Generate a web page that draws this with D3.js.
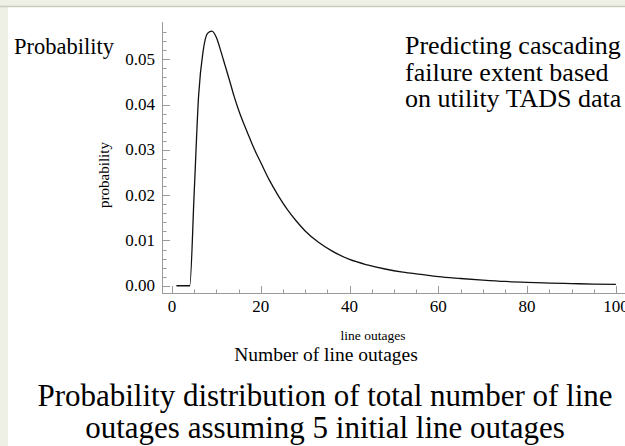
<!DOCTYPE html>
<html>
<head>
<meta charset="utf-8">
<script src="https://cdn.jsdelivr.net/npm/d3@7"></script>
<style>
  html, body { margin: 0; padding: 0; background: #eef0e5; }
  svg { display: block; }
</style>
</head>
<body>
<svg id="chart"></svg>
<script>
// data
const outages = [1, 2, 3, 4, 5, 6, 7, 8, 9, 10, 11, 12, 13, 14, 15, 16, 17, 18, 19, 20,
  22, 24, 26, 28, 30, 33, 36, 40, 44, 48, 52, 56, 60, 65, 70, 75, 80, 85, 90, 95, 100];
const probs = [0, 0, 0, 0, 0.0205, 0.042, 0.0517, 0.0557, 0.0562, 0.0548, 0.0518, 0.0485, 0.0452, 0.0418, 0.0388, 0.0362, 0.0338, 0.0314, 0.0292, 0.0272,
  0.0232, 0.0198, 0.0168, 0.0143, 0.0121, 0.0096, 0.0077, 0.0058, 0.0046, 0.0037, 0.0030, 0.0025, 0.0020, 0.0016, 0.00125, 0.00095, 0.00075, 0.0006, 0.00048, 0.00038, 0.0003];
const xTicks = [0, 20, 40, 60, 80, 100];
const yTicks = [0, 0.01, 0.02, 0.03, 0.04, 0.05];
const noteLines = ["Predicting cascading", "failure extent based", "on utility TADS data"];
const titleLines = ["Probability distribution of total number of line", "outages assuming 5 initial line outages"];

const W = 625, H = 446;
const serif = "'Liberation Serif', Tinos, 'Times New Roman', Times, serif";
const svg = d3.select("#chart").attr("width", W).attr("height", H)
  .attr("font-family", serif);

// white panel with the thin frame line at top
svg.append("rect").attr("x", 8).attr("y", 7).attr("width", W - 8).attr("height", H - 7).attr("fill", "#fff");
svg.append("line").attr("x1", 0).attr("x2", W).attr("y1", 6.5).attr("y2", 6.5)
  .attr("stroke", "#c9cbbf").attr("stroke-width", 1.5);

// scales
const x = d3.scaleLinear().domain([-2.25, 102.5]).range([162, 627]);
const y = d3.scaleLinear().domain([-0.0016, 0.058]).range([293, 23]);

const axisColor = "#9a9a9a";
const g = svg.append("g");

// axis lines
g.append("line").attr("x1", 162.5).attr("x2", 162.5).attr("y1", 22).attr("y2", 293.5)
  .attr("stroke", axisColor);
g.append("line").attr("x1", 162).attr("x2", W).attr("y1", 293.5).attr("y2", 293.5)
  .attr("stroke", axisColor);

// minor + major ticks (pointing inward)
const xMinor = d3.range(0, 101, 5);
g.selectAll(".xt").data(xMinor).enter().append("line")
  .attr("x1", d => Math.round(x(d)) + 0.5).attr("x2", d => Math.round(x(d)) + 0.5)
  .attr("y1", 293).attr("y2", d => d % 20 === 0 ? 286 : 289.5)
  .attr("stroke", axisColor);

const yMinor = d3.range(0, 29).map(i => i * 0.002);
g.selectAll(".yt").data(yMinor).enter().append("line")
  .attr("x1", 163).attr("x2", (d, i) => i % 5 === 0 ? 170 : 166.5)
  .attr("y1", d => Math.round(y(d)) + 0.5).attr("y2", d => Math.round(y(d)) + 0.5)
  .attr("stroke", axisColor);

// tick labels
g.selectAll(".xl").data(xTicks).enter().append("text")
  .attr("x", d => x(d)).attr("y", 312)
  .attr("text-anchor", "middle").attr("font-size", 17)
  .text(d => d);

g.selectAll(".yl").data(yTicks).enter().append("text")
  .attr("x", 155).attr("y", d => y(d) + 5.5)
  .attr("text-anchor", "end").attr("font-size", 17)
  .text(d3.format(".2f"));

// curve
const pts = outages.map((o, i) => [o, probs[i]]);
const line = d3.line().x(d => x(d[0])).y(d => y(d[1])).curve(d3.curveMonotoneX);
g.append("path").datum(pts).attr("d", line)
  .attr("fill", "none").attr("stroke", "#111").attr("stroke-width", 1.3);

// axis labels
svg.append("text").attr("transform", "translate(109,175) rotate(-90)")
  .attr("text-anchor", "middle").attr("font-size", 15).text("probability");
svg.append("text").attr("x", 373).attr("y", 340)
  .attr("text-anchor", "middle").attr("font-size", 13.5).text("line outages");
svg.append("text").attr("x", 14).attr("y", 54).attr("font-size", 22.5).text("Probability");
svg.append("text").attr("x", 326).attr("y", 361)
  .attr("text-anchor", "middle").attr("font-size", 19.5).text("Number of line outages");

// note in the top-right
svg.selectAll(".note").data(noteLines).enter().append("text")
  .attr("x", 405).attr("y", (d, i) => 54 + i * 26.5)
  .attr("font-size", 26).text(d => d);

// title
svg.selectAll(".title").data(titleLines).enter().append("text")
  .attr("x", 325).attr("y", (d, i) => 406 + i * 32)
  .attr("text-anchor", "middle").attr("font-size", 31).text(d => d);
</script>
</body>
</html>
